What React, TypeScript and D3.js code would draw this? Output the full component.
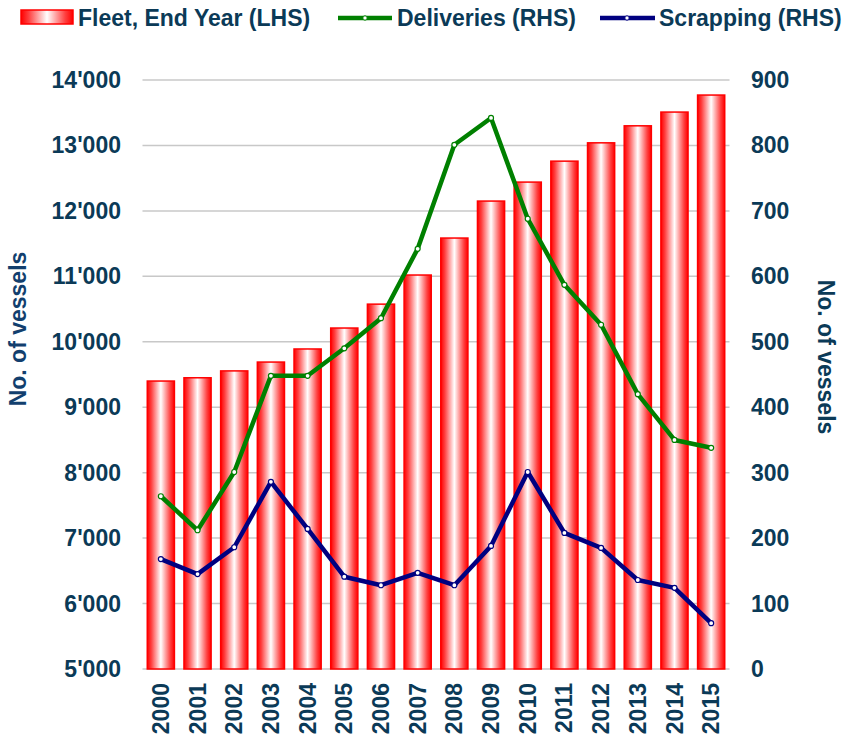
import React from "react";
import * as d3 from "d3";

const years = ["2000","2001","2002","2003","2004","2005","2006","2007","2008","2009","2010","2011","2012","2013","2014","2015"];
const fleet = [9400, 9450, 9555, 9690, 9890, 10210, 10575, 11020, 11585, 12150, 12440, 12760, 13040, 13300, 13510, 13770];
const deliveries = [264, 212, 301, 448, 448, 490, 536, 642, 801, 842, 688, 587, 526, 420, 350, 338];
const scrapping = [168, 145, 186, 286, 214, 141, 128, 147, 128, 188, 301, 208, 185, 136, 124, 70];
const leftTicks = [5000, 6000, 7000, 8000, 9000, 10000, 11000, 12000, 13000, 14000];
const rightTicks = [0, 100, 200, 300, 400, 500, 600, 700, 800, 900];

const W = 848, H = 739;
const M = { left: 142.5, right: 729.5, top: 80, bottom: 669 };
const TXT = "#0b3a57";
const FONT = "'Liberation Sans', Arial, sans-serif";
const FS = 23;

export default function App() {
  const x = d3.scaleBand<string>().domain(years).range([M.left, M.right]).paddingInner(0.26).paddingOuter(0.13);
  const yL = d3.scaleLinear().domain([5000, 14000]).range([M.bottom, M.top]);
  const yR = d3.scaleLinear().domain([0, 900]).range([M.bottom, M.top]);
  const cx = (y: string) => (x(y) as number) + x.bandwidth() / 2;
  const line = d3.line<number>().x((_, i) => cx(years[i])).y((d) => yR(d));
  const fmt = (v: number) => (v >= 1000 ? `${Math.floor(v / 1000)}'${String(v % 1000).padStart(3, "0")}` : String(v));

  return (
    <svg width={W} height={H} style={{ position: "absolute", left: 0, top: 0, background: "#fff" }} fontFamily={FONT}>
      <defs>
        <linearGradient id="barGrad" x1="0" x2="1" y1="0" y2="0">
          <stop offset="0" stopColor="#ff0000" />
          <stop offset="0.15" stopColor="#ff4040" />
          <stop offset="0.5" stopColor="#ffffff" />
          <stop offset="0.85" stopColor="#ff4040" />
          <stop offset="1" stopColor="#ff0000" />
        </linearGradient>
      </defs>
      {leftTicks.map((t) => (
        <line key={t} x1={M.left} x2={M.right} y1={yL(t)} y2={yL(t)} stroke="#c8c8c8" strokeWidth={1.5} />
      ))}
      {fleet.map((v, i) => (
        <rect key={i} x={x(years[i])} y={yL(v)} width={x.bandwidth()} height={yL(5000) - yL(v)}
          fill="url(#barGrad)" stroke="#ff0000" strokeWidth={1.5} />
      ))}
      <path d={line(deliveries) || ""} fill="none" stroke="#008000" strokeWidth={4.5} strokeLinejoin="round" />
      <path d={line(scrapping) || ""} fill="none" stroke="#000080" strokeWidth={4.5} strokeLinejoin="round" />
      {deliveries.map((v, i) => (
        <circle key={"d" + i} cx={cx(years[i])} cy={yR(v)} r={2.5} fill="#fff" stroke="#008000" strokeWidth={1.2} />
      ))}
      {scrapping.map((v, i) => (
        <circle key={"s" + i} cx={cx(years[i])} cy={yR(v)} r={2.5} fill="#fff" stroke="#000080" strokeWidth={1.2} />
      ))}
      {leftTicks.map((t) => (
        <text key={t} x={121} y={yL(t)} dy="0.35em" textAnchor="end" fontSize={FS} fontWeight="bold" fill={TXT}>{fmt(t)}</text>
      ))}
      {rightTicks.map((t) => (
        <text key={t} x={751} y={yR(t)} dy="0.35em" textAnchor="start" fontSize={FS} fontWeight="bold" fill={TXT}>{fmt(t)}</text>
      ))}
      {years.map((y) => (
        <text key={y} transform={`translate(${cx(y)},683) rotate(-90)`} textAnchor="end" dy="0.35em" fontSize={FS} fontWeight="bold" fill={TXT}>{y}</text>
      ))}
      <text transform="translate(18,329) rotate(-90)" textAnchor="middle" dy="0.35em" fontSize={FS} fontWeight="bold" fill="#123f6e">No. of vessels</text>
      <text transform="translate(826,357) rotate(90)" textAnchor="middle" dy="0.35em" fontSize={FS} fontWeight="bold" fill={TXT}>No. of vessels</text>
      <rect x={21} y={10} width={52} height={14} fill="url(#barGrad)" stroke="#ff0000" strokeWidth={1.5} />
      <text x={78} y={18} dy="0.35em" fontSize={FS} fontWeight="bold" fill={TXT}>Fleet, End Year (LHS)</text>
      <line x1={338} x2={392} y1={18} y2={18} stroke="#008000" strokeWidth={4.5} />
      <circle cx={365} cy={18} r={2.2} fill="#fff" stroke="#008000" strokeWidth={1} />
      <text x={397} y={18} dy="0.35em" fontSize={FS} fontWeight="bold" fill={TXT}>Deliveries (RHS)</text>
      <line x1={600} x2={655} y1={18} y2={18} stroke="#000080" strokeWidth={4.5} />
      <circle cx={627} cy={18} r={2.2} fill="#fff" stroke="#000080" strokeWidth={1} />
      <text x={659} y={18} dy="0.35em" fontSize={FS} fontWeight="bold" fill={TXT}>Scrapping (RHS)</text>
    </svg>
  );
}
